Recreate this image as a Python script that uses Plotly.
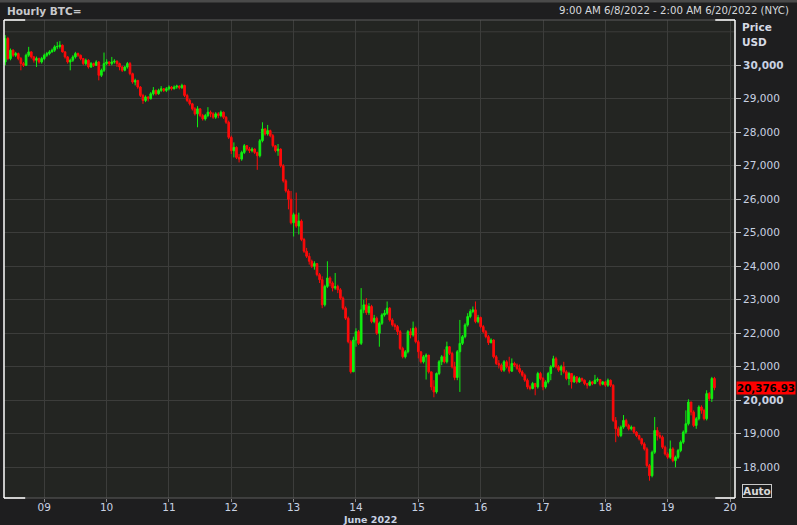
import pandas as pd
import plotly.graph_objects as go

# ---------------- data (hourly BTC, NYC time) ----------------
START = "2022-06-08 09:00"
FIRST_OPEN = 30100

close_0608 = [30800, 30200, 30450, 30300, 30350, 30200, 30050, 30000, 30300, 30400, 30250, 30150, 30200, 30100, 30200]
high_0608 = [30900, 30850, 30500, 30480, 30400, 30380, 30250, 30100, 30350, 30550, 30420, 30280, 30260, 30230, 30250]
low_0608 = [30000, 30150, 30150, 30250, 30250, 30150, 29850, 29950, 29980, 30250, 30200, 30080, 29950, 30050, 30050]

close_0609 = [30300, 30350, 30400, 30450, 30550, 30560, 30600, 30400, 30250, 30100, 30150, 30250, 30350, 30300, 30200, 30050, 30150, 29950, 30050, 30000, 30100, 29700, 29850, 30050]
high_0609 = [30350, 30400, 30450, 30500, 30600, 30700, 30720, 30620, 30420, 30280, 30200, 30300, 30400, 30380, 30320, 30220, 30200, 30180, 30100, 30080, 30150, 30120, 29900, 30380]
low_0609 = [30150, 30250, 30300, 30380, 30400, 30480, 30500, 30380, 30200, 30050, 29850, 30100, 30200, 30250, 30150, 30000, 30000, 29900, 29920, 29950, 29980, 29550, 29650, 29800]

close_0610 = [30100, 30050, 30100, 30120, 30050, 29950, 29850, 29950, 30050, 29750, 29500, 29550, 29350, 29100, 28950, 29050, 29000, 29150, 29250, 29150, 29250, 29300, 29250, 29300]
high_0610 = [30180, 30120, 30250, 30180, 30150, 30080, 29980, 29980, 30100, 30100, 29780, 29600, 29560, 29380, 29150, 29100, 29080, 29200, 29350, 29280, 29300, 29380, 29320, 29350]
low_0610 = [30000, 29980, 30000, 30050, 29950, 29850, 29800, 29820, 29900, 29700, 29450, 29400, 29300, 29050, 28850, 28900, 28920, 28980, 29100, 29100, 29120, 29200, 29200, 29200]

close_0611 = [29350, 29300, 29350, 29380, 29330, 29400, 29100, 28950, 28850, 28700, 28550, 28700, 28500, 28400, 28500, 28600, 28550, 28450, 28550, 28500, 28600, 28450, 28300, 27850]
high_0611 = [29400, 29380, 29400, 29420, 29400, 29450, 29420, 29150, 29000, 28880, 28750, 28780, 28720, 28550, 28550, 28750, 28650, 28600, 28600, 28600, 28650, 28620, 28480, 28350]
low_0611 = [29250, 29250, 29280, 29300, 29280, 29300, 29050, 28900, 28800, 28650, 28500, 28150, 28450, 28350, 28350, 28450, 28450, 28400, 28400, 28420, 28450, 28400, 28250, 27800]

close_0612 = [27450, 27550, 27250, 27200, 27400, 27600, 27500, 27450, 27500, 27400, 27300, 27750, 28100, 27950, 28050, 27900, 27600, 27450, 27500, 27000, 26550, 26250, 26000, 25300]
high_0612 = [27900, 27700, 27580, 27350, 27450, 27650, 27620, 27560, 27550, 27520, 27420, 27800, 28300, 28120, 28220, 28080, 27950, 27620, 27650, 27520, 27050, 26600, 26300, 26250]
low_0612 = [27350, 27250, 27200, 27100, 27150, 27350, 27450, 27380, 27400, 27350, 26880, 27250, 27700, 27900, 27900, 27850, 27550, 27400, 27300, 26950, 26500, 26200, 25700, 25250]

close_0613 = [25540, 25200, 25350, 24800, 24450, 24300, 24150, 24000, 24080, 23750, 23600, 22850, 23400, 23650, 23500, 23350, 23400, 23300, 23050, 22750, 22450, 21750, 20850, 21800]
high_0613 = [25600, 26200, 25600, 25400, 24850, 24550, 24400, 24200, 24150, 24100, 23800, 23700, 23450, 24150, 23700, 23550, 23800, 23450, 23350, 23100, 22800, 22500, 21800, 21900]
low_0613 = [24890, 25150, 24950, 24750, 24400, 24250, 24050, 23950, 23900, 23700, 23500, 22750, 22800, 23350, 23400, 23250, 23300, 23200, 23000, 22700, 22400, 21700, 20800, 20850]

close_0614 = [22050, 21700, 22700, 22850, 22620, 22800, 22350, 22450, 22000, 22300, 22550, 22600, 22750, 22400, 22250, 22200, 22050, 21550, 21300, 21450, 22050, 21950, 22150, 21750]
high_0614 = [22150, 22100, 23350, 23000, 23050, 22900, 22850, 22550, 22500, 22350, 22600, 22700, 22950, 22780, 22450, 22300, 22250, 22100, 21600, 21500, 22100, 22150, 22350, 22200]
low_0614 = [21600, 21650, 21650, 22600, 22550, 22550, 22300, 22300, 21950, 21600, 22250, 22500, 22550, 22350, 22200, 22100, 21950, 21500, 21250, 21250, 21400, 21850, 21900, 21700]

close_0615 = [21450, 21150, 21300, 21350, 20850, 20400, 20250, 20800, 21150, 21300, 21150, 21600, 21400, 21000, 20680, 21450, 21700, 21900, 22250, 22500, 22650, 22700, 22350, 22470]
high_0615 = [21800, 21450, 21350, 21400, 21350, 20850, 20600, 20830, 21200, 21350, 21520, 21750, 21620, 21450, 21150, 21500, 22400, 21950, 22300, 22600, 22720, 22800, 22950, 22550]
low_0615 = [21250, 21100, 21100, 20620, 20800, 20300, 20090, 20200, 20750, 21050, 21100, 21100, 21350, 20950, 20600, 20600, 20250, 21650, 21850, 22200, 22450, 22600, 22300, 22300]

close_0616 = [22200, 22050, 21900, 21720, 21800, 21300, 21100, 21050, 20900, 21150, 21000, 20870, 21100, 21050, 20950, 20850, 20750, 20600, 20400, 20350, 20500, 20400, 20800, 20650]
high_0616 = [22500, 22250, 22100, 21950, 21850, 21820, 21350, 21200, 21100, 21200, 21200, 21300, 21250, 21150, 21100, 21070, 20900, 20800, 20650, 20450, 20550, 20520, 20850, 20850]
low_0616 = [22150, 22000, 21850, 21650, 21700, 21250, 21050, 20950, 20850, 20850, 20950, 20800, 20850, 21000, 20900, 20800, 20700, 20550, 20330, 20300, 20330, 20150, 20350, 20600]

close_0617 = [20400, 20550, 20800, 21000, 21240, 21000, 20900, 21000, 20850, 20650, 20800, 20550, 20700, 20550, 20650, 20600, 20500, 20450, 20550, 20500, 20600, 20620, 20480, 20550]
high_0617 = [20700, 20600, 20850, 21050, 21330, 21300, 21050, 21060, 21150, 20900, 20850, 20800, 20750, 20720, 20700, 20680, 20620, 20520, 20600, 20580, 20760, 20680, 20640, 20580]
low_0617 = [20300, 20350, 20500, 20600, 20980, 20950, 20850, 20750, 20800, 20600, 20450, 20350, 20520, 20500, 20520, 20550, 20450, 20350, 20420, 20450, 20480, 20550, 20420, 20450]

close_0618 = [20450, 20600, 20450, 19400, 19150, 18950, 19200, 19400, 19250, 19150, 19200, 19050, 18950, 18850, 18700, 18550, 18050, 17750, 18450, 19100, 18950, 18900, 18600, 18400]
high_0618 = [20580, 20650, 20620, 20480, 19500, 19220, 19250, 19560, 19450, 19300, 19250, 19200, 19080, 18980, 18880, 18750, 18600, 18100, 18500, 19500, 19200, 19050, 18950, 18650]
low_0618 = [20400, 20400, 20400, 19350, 18750, 18900, 18900, 19150, 19200, 19100, 19100, 19000, 18900, 18800, 18650, 18500, 18000, 17600, 17700, 18400, 18800, 18850, 18550, 18350]

close_0619 = [18300, 18550, 18200, 18300, 18500, 18750, 19050, 19300, 19950, 19650, 19250, 19450, 19800, 19700, 19450, 20200, 20050, 20650, 20376.93]
high_0619 = [18450, 18800, 18600, 18350, 18550, 18800, 19100, 19700, 20030, 19950, 19700, 19500, 19850, 19850, 19750, 20300, 20250, 20700, 20700]
low_0619 = [18250, 18250, 18150, 18000, 18250, 18450, 18700, 19000, 19250, 19550, 19200, 19150, 19400, 19600, 19400, 19400, 19980, 19950, 20300]

LAST_PRICE = 20376.93

y_tick_values = [18000, 19000, 20000, 21000, 22000, 23000, 24000, 25000, 26000, 27000, 28000, 29000, 30000]
y_tick_labels = ["18,000", "19,000", "<b>20,000</b>", "21,000", "22,000", "23,000", "24,000",
                 "25,000", "26,000", "27,000", "28,000", "29,000", "<b>30,000</b>"]
x_tick_values = ["2022-06-%02d" % d for d in range(9, 21)]
x_tick_labels = ["%02d" % d for d in range(9, 21)]

# ---------------- assemble ----------------
closes = (close_0608 + close_0609 + close_0610 + close_0611 + close_0612 + close_0613 +
          close_0614 + close_0615 + close_0616 + close_0617 + close_0618 + close_0619)
highs = (high_0608 + high_0609 + high_0610 + high_0611 + high_0612 + high_0613 +
         high_0614 + high_0615 + high_0616 + high_0617 + high_0618 + high_0619)
lows = (low_0608 + low_0609 + low_0610 + low_0611 + low_0612 + low_0613 +
        low_0614 + low_0615 + low_0616 + low_0617 + low_0618 + low_0619)
opens = [FIRST_OPEN] + closes[:-1]
times = pd.date_range(START, periods=len(closes), freq="h")

GREEN = "#10f010"
RED = "#ff0a0a"
FONT = "DejaVu Sans"
LBL = "#c9d2e3"

fig = go.Figure(go.Candlestick(
    x=times, open=opens, high=highs, low=lows, close=closes,
    increasing=dict(line=dict(color=GREEN, width=1), fillcolor=GREEN),
    decreasing=dict(line=dict(color=RED, width=1), fillcolor=RED),
    whiskerwidth=0, hoverinfo="skip",
))

W_PLOT, H_PLOT = 731, 478
def px(x):
    return (x - 4) / W_PLOT
def py(y):
    return (498 - y) / H_PLOT

GRID = "#3c3d3b"
shapes = [
    dict(type="line", xref="paper", yref="y", x0=0, x1=1, y0=31000, y1=31000,
         line=dict(color=GRID, width=1), layer="below"),
    dict(type="line", xref="paper", yref="paper", x0=0, x1=1, y0=1, y1=1, line=dict(color="#5c5c5c", width=1)),
    dict(type="line", xref="paper", yref="paper", x0=0, x1=1, y0=0, y1=0, line=dict(color="#5c5c5c", width=1)),
    dict(type="line", xref="paper", yref="paper", x0=0, x1=0, y0=0, y1=1, line=dict(color="#ffffff", width=1.5)),
    dict(type="line", xref="paper", yref="paper", x0=1, x1=1, y0=0, y1=1, line=dict(color="#ffffff", width=1.5)),
    dict(type="line", xref="paper", yref="paper", x0=0, x1=0.029, y0=1, y1=1, line=dict(color="#ffffff", width=1.5)),
    dict(type="line", xref="paper", yref="paper", x0=0, x1=0.029, y0=0, y1=0, line=dict(color="#ffffff", width=1.5)),
    dict(type="line", xref="paper", yref="paper", x0=0.973, x1=1, y0=1, y1=1, line=dict(color="#ffffff", width=1.5)),
    dict(type="line", xref="paper", yref="paper", x0=0.973, x1=1, y0=0, y1=0, line=dict(color="#ffffff", width=1.5)),
    dict(type="rect", xref="paper", yref="paper", x0=px(0), x1=px(797), y0=py(2.5), y1=py(0),
         fillcolor="#4a4a4a", line=dict(width=0)),
]

annotations = [
    dict(text="<b>Hourly BTC=</b>", xref="paper", yref="paper", x=px(5), y=py(11),
         xanchor="left", yanchor="middle", showarrow=False,
         font=dict(family=FONT, size=10.5, color="#c8c9cc")),
    dict(text="9:00 AM 6/8/2022 - 2:00 AM 6/20/2022 (NYC)", xref="paper", yref="paper",
         x=px(791), y=py(11), xanchor="right", yanchor="middle", showarrow=False,
         font=dict(family=FONT, size=10.2, color="#d6d8dc")),
    dict(text="<b>Price</b>", xref="paper", yref="paper", x=px(740), y=py(27),
         xanchor="left", yanchor="middle", showarrow=False,
         font=dict(family=FONT, size=10.5, color="#d6dae4")),
    dict(text="<b>USD</b>", xref="paper", yref="paper", x=px(740), y=py(42),
         xanchor="left", yanchor="middle", showarrow=False,
         font=dict(family=FONT, size=10.5, color="#d6dae4")),
    dict(text="<b>20,376.93</b>", xref="paper", yref="y", x=px(736), y=LAST_PRICE,
         xanchor="left", yanchor="middle", showarrow=False, bgcolor="#ff0000",
         borderpad=0,
         font=dict(family=FONT, size=10.3, color="#000000")),
    dict(text="<b>Auto</b>", xref="paper", yref="paper", x=px(742), y=py(491),
         xanchor="left", yanchor="middle", showarrow=False, bordercolor="#c8c8c8",
         borderwidth=1, borderpad=0,
         font=dict(family=FONT, size=10.5, color="#d8d8d8")),
    dict(text="<b>June 2022</b>", xref="paper", yref="paper", x=px(370), y=py(512),
         xanchor="center", yanchor="top", showarrow=False,
         font=dict(family=FONT, size=9.5, color=LBL)),
]

fig.update_layout(
    width=797, height=525,
    margin=dict(l=4, r=62, t=20, b=27),
    paper_bgcolor="#1e1e1f",
    plot_bgcolor="#232522",
    showlegend=False,
    boxgap=0.2, boxgroupgap=0.2,
    shapes=shapes,
    annotations=annotations,
    xaxis=dict(
        type="date", range=["2022-06-08 08:30", "2022-06-20 01:55"],
        rangeslider=dict(visible=False),
        tickvals=x_tick_values, ticktext=x_tick_labels,
        showgrid=True, gridcolor=GRID, gridwidth=1, zeroline=False, showline=False,
        ticks="outside", ticklen=3, tickcolor="#8a8a8a", ticklabelstandoff=-4,
        tickfont=dict(family=FONT, size=10.5, color=LBL),
    ),
    yaxis=dict(
        side="right", range=[17084, 31352],
        tickvals=y_tick_values, ticktext=y_tick_labels,
        showgrid=True, gridcolor=GRID, gridwidth=1, zeroline=False, showline=False,
        ticks="outside", ticklen=5, tickcolor="#c0c0c0",
        tickfont=dict(family=FONT, size=10.5, color=LBL),
    ),
)

fig.write_html("out.html", config={"displayModeBar": False},
               post_script="document.body.style.margin='0';document.body.style.overflow='hidden';")
